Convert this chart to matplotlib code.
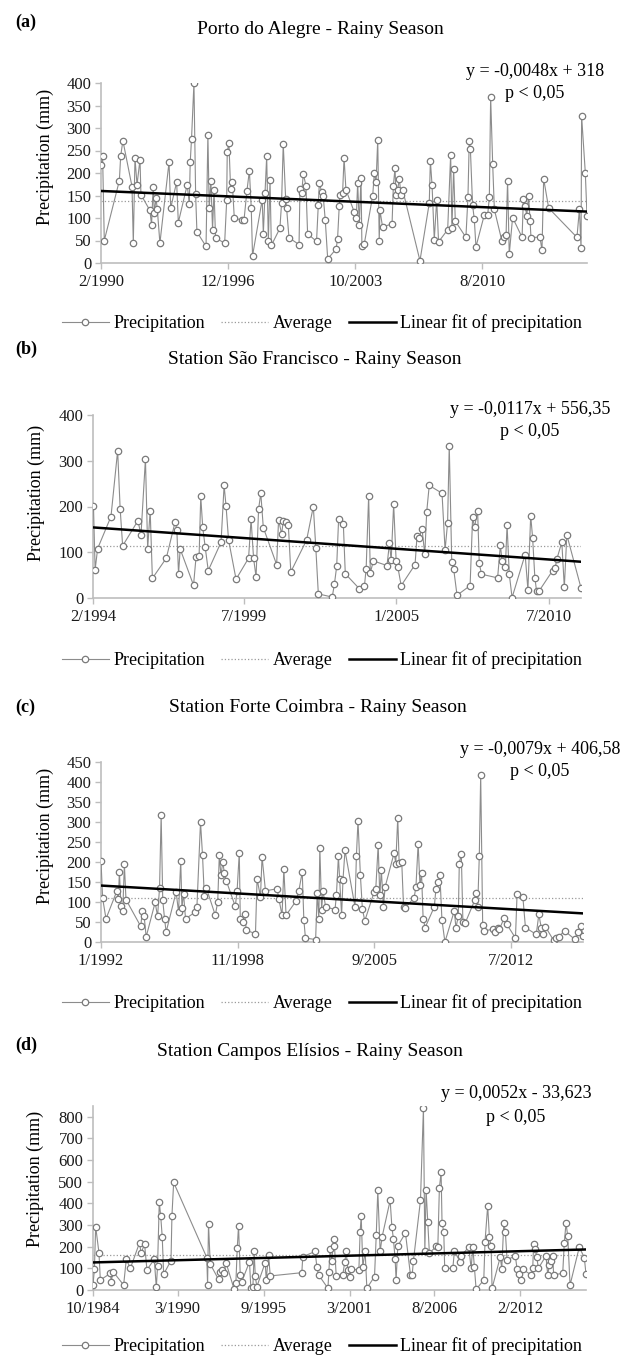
import numpy as np
import matplotlib.pyplot as plt
from matplotlib.lines import Line2D

plt.rcParams['font.family'] = ['Liberation Serif', 'DejaVu Serif']

W, H = 636, 1358

# (a) Porto do Alegre
a_years = [1990.08, 1990.17, 1990.26, 1991.07, 1991.14, 1991.26, 1991.75, 1991.82, 1991.91, 1992.02,
           1992.18, 1992.23, 1992.71, 1992.80, 1992.89, 1992.95, 1993.04, 1993.11, 1993.25, 1993.74,
           1993.83, 1994.15, 1994.24, 1994.72, 1994.83, 1994.88, 1994.95, 1995.08, 1995.17, 1995.24,
           1995.73, 1995.83, 1995.90, 1995.99, 1996.08, 1996.16, 1996.24, 1996.73, 1996.84, 1996.87,
           1996.96, 1997.05, 1997.14, 1997.25, 1997.66, 1997.77, 1997.93, 1998.06, 1998.16, 1998.23,
           1998.75, 1998.81, 1998.90, 1998.99, 1999.08, 1999.17, 1999.24, 1999.70, 1999.79, 1999.88,
           2000.01, 2000.06, 2000.19, 2000.73, 2000.78, 2000.87, 2000.96, 2001.10, 2001.19, 2001.67,
           2001.76, 2001.82, 2001.96, 2002.03, 2002.14, 2002.27, 2002.72, 2002.80, 2002.89, 2002.93,
           2003.07, 2003.15, 2003.25, 2003.70, 2003.81, 2003.88, 2003.97, 2004.06, 2004.11, 2004.24,
           2004.69, 2004.78, 2004.87, 2004.96, 2005.04, 2005.08, 2005.22, 2005.73, 2005.80, 2005.89,
           2005.94, 2006.03, 2006.12, 2006.21, 2006.30, 2007.23, 2007.73, 2007.79, 2007.88, 2008.00,
           2008.13, 2008.23, 2008.72, 2008.88, 2008.95, 2009.04, 2009.13, 2009.70, 2009.81, 2009.88,
           2009.94, 2010.06, 2010.15, 2010.24, 2010.69, 2010.87, 2010.96, 2011.03, 2011.14, 2011.23,
           2011.64, 2011.77, 2011.86, 2011.94, 2012.03, 2012.21, 2012.72, 2012.79, 2012.89, 2012.97,
           2013.07, 2013.15, 2013.20, 2013.68, 2013.79, 2013.88, 2014.15, 2015.67, 2015.80, 2015.89,
           2015.92, 2016.12, 2016.21]
a_precip = [218, 237, 50, 183, 237, 272, 170, 44, 233, 174,
            230, 152, 117, 85, 169, 111, 144, 120, 44, 224,
            122, 180, 90, 174, 131, 224, 276, 400, 153, 69,
            37, 285, 122, 183, 74, 163, 56, 44, 139, 247,
            267, 165, 179, 99, 96, 95, 161, 205, 123, 16,
            141, 65, 155, 237, 50, 185, 39, 77, 133, 265,
            142, 122, 56, 41, 165, 155, 198, 172, 65, 48,
            128, 177, 157, 148, 95, 9, 31, 53, 126, 152,
            155, 234, 163, 113, 101, 178, 85, 190, 37, 43,
            150, 201, 179, 274, 50, 117, 80, 87, 172, 211,
            151, 163, 187, 152, 163, 5, 133, 227, 173, 52,
            141, 47, 74, 241, 78, 210, 93, 57, 146, 272,
            254, 128, 98, 36, 107, 107, 146, 369, 219, 119,
            48, 58, 63, 183, 19, 101, 57, 142, 126, 105,
            150, 94, 56, 58, 28, 187, 122, 57, 119, 33,
            327, 200, 104]
a_ticks = ['2/1990', '12/1996', '10/2003', '8/2010']
a_fit = (-0.0048, 318)

# (b) Sao Francisco
b_years = [1994.10, 1994.16, 1994.25, 1994.73, 1994.97, 1995.06, 1995.15, 1995.70, 1995.81, 1995.97,
           1996.05, 1996.14, 1996.22, 1996.72, 1997.04, 1997.10, 1997.16, 1997.22, 1997.70, 1997.79,
           1997.90, 1997.96, 1998.03, 1998.12, 1998.23, 1998.69, 1998.80, 1998.87, 1998.96, 1999.23,
           1999.68, 1999.77, 1999.86, 1999.95, 2000.04, 2000.12, 2000.21, 2000.69, 2000.76, 2000.87,
           2000.93, 2001.03, 2001.11, 2001.20, 2001.77, 2002.01, 2002.10, 2002.19, 2002.69, 2002.77,
           2002.85, 2002.92, 2003.09, 2003.16, 2003.67, 2003.85, 2003.91, 2004.00, 2004.06, 2004.17,
           2004.66, 2004.75, 2004.81, 2004.90, 2004.99, 2005.05, 2005.17, 2005.67, 2005.74, 2005.82,
           2005.92, 2006.02, 2006.09, 2006.18, 2006.64, 2006.75, 2006.84, 2006.90, 2006.99, 2007.06,
           2007.18, 2007.65, 2007.74, 2007.81, 2007.92, 2007.98, 2008.06, 2008.64, 2008.74, 2008.80,
           2008.92, 2008.98, 2009.06, 2009.16, 2009.63, 2009.73, 2009.83, 2009.90, 2009.98, 2010.04,
           2010.14, 2010.62, 2010.71, 2010.77, 2010.95, 2011.04, 2011.13, 2011.64]
b_precip = [201, 62, 108, 178, 322, 195, 114, 169, 138, 304,
            108, 191, 43, 87, 167, 149, 53, 107, 28, 89,
            91, 222, 155, 111, 60, 122, 246, 201, 127, 41,
            87, 172, 87, 46, 194, 229, 154, 73, 171, 140,
            169, 167, 160, 57, 127, 200, 109, 9, 2, 31,
            69, 173, 161, 53, 20, 27, 64, 223, 55, 81,
            71, 120, 82, 205, 80, 68, 27, 73, 135, 132,
            151, 96, 189, 246, 229, 105, 164, 333, 79, 63,
            6, 27, 176, 155, 191, 76, 52, 44, 116, 80,
            68, 160, 52, 1, 95, 18, 180, 131, 44, 16,
            16, 60, 65, 85, 122, 23, 138, 22]
b_ticks = ['2/1994', '7/1999', '1/2005', '7/2010']
b_fit = (-0.0117, 556.35)

# (c) Forte Coimbra
c_years = [1992.00, 1992.08, 1992.25, 1992.79, 1992.87, 1992.92, 1993.00, 1993.09, 1993.17, 1993.25,
           1993.99, 1994.07, 1994.16, 1994.26, 1994.71, 1994.83, 1994.93, 1995.01, 1995.09, 1995.18,
           1995.26, 1995.76, 1995.88, 1995.99, 1996.05, 1996.13, 1996.23, 1996.72, 1996.80, 1996.98,
           1997.08, 1997.17, 1997.27, 1997.72, 1997.84, 1997.92, 1998.00, 1998.10, 1998.17, 1998.27,
           1998.72, 1998.81, 1998.92, 1998.97, 1999.09, 1999.19, 1999.27, 1999.73, 1999.81, 1999.98,
           2000.06, 2000.23, 2000.81, 2000.90, 2001.06, 2001.15, 2001.26, 2001.77, 2001.90, 2002.07,
           2002.15, 2002.23, 2002.74, 2002.82, 2002.90, 2002.95, 2003.04, 2003.11, 2003.24, 2003.71,
           2003.78, 2003.88, 2003.94, 2004.04, 2004.11, 2004.21, 2004.71, 2004.78, 2004.86, 2004.98,
           2005.08, 2005.20, 2005.67, 2005.75, 2005.87, 2005.95, 2006.03, 2006.13, 2006.22, 2006.67,
           2006.75, 2006.85, 2006.92, 2007.05, 2007.14, 2007.22, 2007.67, 2007.76, 2007.87, 2007.96,
           2008.04, 2008.12, 2008.22, 2008.68, 2008.76, 2008.88, 2008.96, 2009.06, 2009.21, 2009.68,
           2009.76, 2009.88, 2009.93, 2010.03, 2010.11, 2010.23, 2010.70, 2010.77, 2010.85, 2010.93,
           2011.00, 2011.10, 2011.18, 2011.64, 2011.72, 2011.85, 2011.94, 2012.19, 2012.31, 2012.74,
           2012.82, 2013.11, 2013.24, 2013.78, 2013.91, 2014.03, 2014.11, 2014.24, 2014.65, 2014.75,
           2014.90, 2015.20, 2015.70, 2015.87, 2016.03, 2016.12]
c_precip = [203, 110, 58, 127, 108, 175, 89, 78, 194, 106,
            39, 78, 64, 13, 99, 64, 136, 317, 104, 58,
            25, 125, 75, 203, 86, 121, 58, 75, 88, 300,
            217, 115, 135, 67, 100, 217, 167, 200, 172, 153,
            89, 128, 223, 58, 50, 69, 29, 21, 158, 113,
            213, 128, 133, 108, 67, 183, 67, 103, 128, 175,
            56, 10, 6, 123, 58, 236, 81, 128, 88, 81,
            117, 214, 158, 67, 156, 229, 88, 214, 303, 167,
            83, 53, 125, 133, 242, 117, 179, 88, 138, 223,
            196, 311, 198, 200, 88, 85, 111, 138, 246, 143,
            172, 58, 36, 88, 133, 150, 167, 56, 0, 78,
            36, 64, 196, 221, 50, 48, 104, 123, 88, 214,
            417, 42, 27, 33, 25, 35, 33, 61, 44, 10,
            119, 113, 36, 19, 69, 36, 21, 38, 4, 10,
            13, 28, 7, 25, 39, 14]
c_ticks = ['1/1992', '11/1998', '9/2005', '7/2012']
c_fit = (-0.0079, 406.58)

# (d) Campos Elisios
d_years = [1984.75, 1984.84, 1984.92, 1985.13, 1985.22, 1985.86, 1985.92, 1986.03, 1986.71, 1986.88,
           1987.14, 1987.73, 1987.82, 1988.05, 1988.20, 1988.67, 1988.80, 1988.88, 1988.99, 1989.08,
           1989.18, 1989.27, 1989.74, 1989.80, 1989.91, 1992.03, 1992.08, 1992.14, 1992.25, 1992.78,
           1992.89, 1993.00, 1993.10, 1993.27, 1993.78, 1993.89, 1993.98, 1994.06, 1994.17, 1994.27,
           1994.76, 1994.85, 1994.98, 1995.06, 1995.13, 1995.23, 1995.77, 1995.83, 1995.98, 1996.09,
           1998.11, 1998.17, 1998.96, 1999.07, 1999.18, 1999.78, 1999.84, 1999.92, 2000.03, 2000.14,
           2000.20, 2000.31, 2000.73, 2000.86, 2000.95, 2001.05, 2001.16, 2001.27, 2001.76, 2001.84,
           2001.91, 2002.01, 2002.16, 2002.27, 2002.76, 2002.87, 2002.97, 2003.12, 2003.25, 2003.76,
           2003.87, 2003.97, 2004.08, 2004.14, 2004.25, 2004.74, 2005.06, 2005.17, 2005.25, 2005.70,
           2005.89, 2005.98, 2006.06, 2006.17, 2006.27, 2006.70, 2006.81, 2006.91, 2007.02, 2007.08,
           2007.19, 2007.25, 2007.77, 2007.87, 2008.24, 2008.30, 2008.79, 2008.94, 2009.05, 2009.15,
           2009.26, 2009.75, 2009.83, 2010.00, 2010.11, 2010.22, 2010.28, 2010.81, 2010.90, 2011.03,
           2011.13, 2011.24, 2011.77, 2011.88, 2012.03, 2012.13, 2012.24, 2012.77, 2012.88, 2012.94,
           2013.05, 2013.14, 2013.24, 2013.73, 2013.84, 2013.95, 2014.05, 2014.16, 2014.22, 2014.80,
           2014.90, 2015.01, 2015.12, 2015.27, 2015.86, 2016.18, 2016.29]
d_precip = [23, 96, 293, 173, 46, 77, 39, 85, 23, 142,
            100, 219, 170, 212, 93, 142, 12, 111, 406, 343,
            244, 73, 136, 343, 497, 150, 23, 306, 120, 49,
            85, 93, 77, 124, 3, 31, 196, 297, 70, 39,
            130, 8, 15, 178, 65, 15, 127, 46, 162, 65,
            80, 154, 178, 108, 70, 8, 85, 188, 136, 235,
            201, 65, 70, 131, 178, 93, 59, 96, 93, 270,
            340, 108, 178, 8, 62, 252, 460, 178, 247, 414,
            293, 235, 142, 46, 204, 263, 70, 70, 136, 414,
            842, 181, 463, 314, 170, 201, 198, 471, 544, 309,
            270, 100, 100, 178, 131, 158, 198, 100, 198, 108,
            3, 46, 224, 389, 244, 201, 8, 154, 96, 309,
            270, 139, 158, 96, 74, 46, 96, 70, 100, 213,
            188, 154, 100, 158, 70, 116, 136, 158, 70, 77,
            216, 309, 250, 23, 198, 150, 74]
d_ticks = ['10/1984', '3/1990', '9/1995', '3/2001', '8/2006', '2/2012']
d_fit = (0.0052, -33.623)


def tick_pos(label):
    m, y = label.split('/')
    return int(y) + (int(m) - 1) / 12.0


def excel_serial(yr):
    # Excel day number, the x the fit equations were made with
    return 25569 + (np.asarray(yr) - 1970) * 365.25


def fx(px):
    return px / W


def fy(py):
    return 1 - py / H


GREY = '#8c8c8c'
AXIS = '#bdbdbd'


def panel(years, precip, ticks, fit, ylim, ystep, ytop, title, tag, eq, lay):
    left, right, top, bottom = lay['box']
    ax = fig.add_axes([fx(left), fy(bottom), fx(right) - fx(left), fy(top) - fy(bottom)])

    ax.plot(years, precip, '-', color=GREY, lw=0.8, marker='o', ms=4.6,
            mfc='white', mec='#7a7a7a', mew=0.9, zorder=3)

    x0, x1 = years[0], years[-1]
    avg = np.mean(precip)
    ax.plot([x0, x1], [avg, avg], ls=':', color='#9a9a9a', lw=0.9, zorder=2)

    xs = np.array([x0, x1])
    ax.plot(xs, fit[0] * excel_serial(xs) + fit[1], color='black', lw=1.8, zorder=4)

    ax.set_xlim(tick_pos(ticks[0]), x1)
    ax.set_ylim(0, ylim)
    ax.set_xticks([tick_pos(t) for t in ticks])
    ax.set_xticklabels(ticks)
    ax.set_yticks(np.arange(0, ytop + 1, ystep))
    for s in ['top', 'right']:
        ax.spines[s].set_visible(False)
    for s in ['left', 'bottom']:
        ax.spines[s].set_color(AXIS)
        ax.spines[s].set_linewidth(1.2)
    ax.spines['left'].set_bounds(0, ylim)
    ax.tick_params(axis='both', colors=AXIS, labelcolor='#1a1a1a', labelsize=12,
                   direction='out', length=4, width=1)
    ax.tick_params(axis='x', pad=4)
    ax.tick_params(axis='y', pad=3)
    ax.patch.set_alpha(0)

    fig.text(fx(15), fy(lay['tag']), tag, fontsize=13, fontweight='bold', va='center')
    fig.text(fx(lay['title'][0]), fy(lay['title'][1]), title, fontsize=14,
             ha='center', va='center')
    fig.text(fx(lay['eq'][0]), fy(lay['eq'][1]), eq, fontsize=13, ha='center', va='center')
    fig.text(fx(lay['eq'][0]), fy(lay['eq'][2]), 'p < 0,05', fontsize=13,
             ha='center', va='center')
    fig.text(fx(lay['ylab'][0]), fy(lay['ylab'][1]), 'Precipitation (mm)', fontsize=13,
             rotation=90, ha='center', va='center')

    handles = [Line2D([], [], color=GREY, lw=0.8, marker='o', ms=4.6, mfc='white',
                      mec='#7a7a7a', mew=0.9),
               Line2D([], [], color='#9a9a9a', lw=0.9, ls=':'),
               Line2D([], [], color='black', lw=1.8)]
    fig.legend(handles, ['Precipitation', 'Average', 'Linear fit of precipitation'],
               loc='center', bbox_to_anchor=(fx(322), fy(lay['leg'])), ncol=3,
               frameon=False, fontsize=13, handlelength=2.6, handletextpad=0.25,
               columnspacing=0.9, borderpad=0)
    return ax


fig = plt.figure(figsize=(W / 100, H / 100), dpi=100)

panel(a_years, a_precip, a_ticks, a_fit, 400, 50, 400,
      'Porto do Alegre - Rainy Season', '(a)', 'y = -0,0048x + 318',
      dict(box=(101, 587, 83, 263), tag=22, title=(320, 30), eq=(535, 72, 93),
           ylab=(45, 157), leg=323))
panel(b_years, b_precip, b_ticks, b_fit, 400, 100, 400,
      'Station São Francisco - Rainy Season', '(b)', 'y = -0,0117x + 556,35',
      dict(box=(93, 581, 415, 598), tag=349, title=(315, 360), eq=(530, 410, 432),
           ylab=(36, 493), leg=660))
panel(c_years, c_precip, c_ticks, c_fit, 450, 50, 450,
      'Station Forte Coimbra - Rainy Season', '(c)', 'y = -0,0079x + 406,58',
      dict(box=(101, 583, 762, 942), tag=707, title=(318, 708), eq=(540, 750, 772),
           ylab=(45, 836), leg=1003))
panel(d_years, d_precip, d_ticks, d_fit, 850, 100, 800,
      'Station Campos Elísios - Rainy Season', '(d)', 'y = 0,0052x - 33,623',
      dict(box=(93, 586, 1106, 1290), tag=1045, title=(310, 1052), eq=(516, 1093, 1118),
           ylab=(35, 1179), leg=1346))

fig.savefig('out.png', dpi=100)
